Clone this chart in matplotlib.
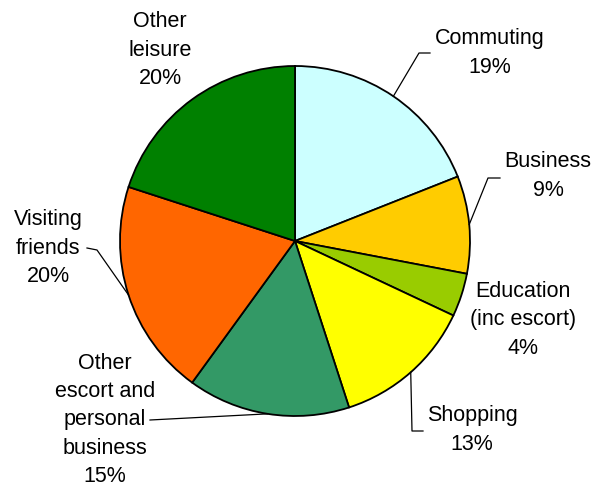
import numpy as np
import matplotlib
matplotlib.use("Agg")
import matplotlib.pyplot as plt

plt.rcParams['font.family'] = ['Liberation Sans', 'DejaVu Sans']

# data
categories = ["Commuting", "Business", "Education\n(inc escort)", "Shopping",
              "Other\nescort and\npersonal\nbusiness", "Visiting\nfriends", "Other\nleisure"]
shares = [19, 9, 4, 13, 15, 20, 20]
colors = ["#CCFFFF", "#FFCC00", "#99CC00", "#FFFF00", "#339966", "#FF6600", "#008000"]

W, H = 594, 486
CX, CY, R = 295, 241, 175

fig = plt.figure(figsize=(W / 100, H / 100), dpi=100)
ax = fig.add_axes([(CX - R) / W, (H - CY - R) / H, 2 * R / W, 2 * R / H])

wedges, _ = ax.pie(shares, colors=colors, startangle=90, counterclock=False,
                   radius=1, wedgeprops=dict(edgecolor="black", linewidth=1.3))
ax.set_xlim(-1, 1)
ax.set_ylim(-1, 1)
ax.axis("off")


def px(x, y):
    # pixel position -> data coords
    return (x - CX) / R, (CY - y) / R


# text centres and leader elbows/ends in pixels (None = no leader)
text_pos = [(490, 53), (548, 176), (523, 320), (472, 430), (105, 420), (48, 248), (160, 50)]
leaders = [
    [(419, 53), (430, 53)],
    [(488, 178), (500, 178)],
    None,
    [(412, 431), (423, 431)],
    [(150, 420)],
    [(97, 250), (87, 248)],
    None,
]

for w, lab, val, tp, ld in zip(wedges, categories, shares, text_pos, leaders):
    tx, ty = px(*tp)
    ax.text(tx, ty, f"{lab}\n{val}%", ha="center", va="center", fontsize=15.5,
            linespacing=1.45, clip_on=False)
    if ld:
        mid = np.deg2rad((w.theta1 + w.theta2) / 2)
        pts = [(np.cos(mid), np.sin(mid))] + [px(*p) for p in ld]
        xs, ys = zip(*pts)
        ax.plot(xs, ys, color="black", lw=0.9, clip_on=False)

fig.savefig("out.png", dpi=100)
